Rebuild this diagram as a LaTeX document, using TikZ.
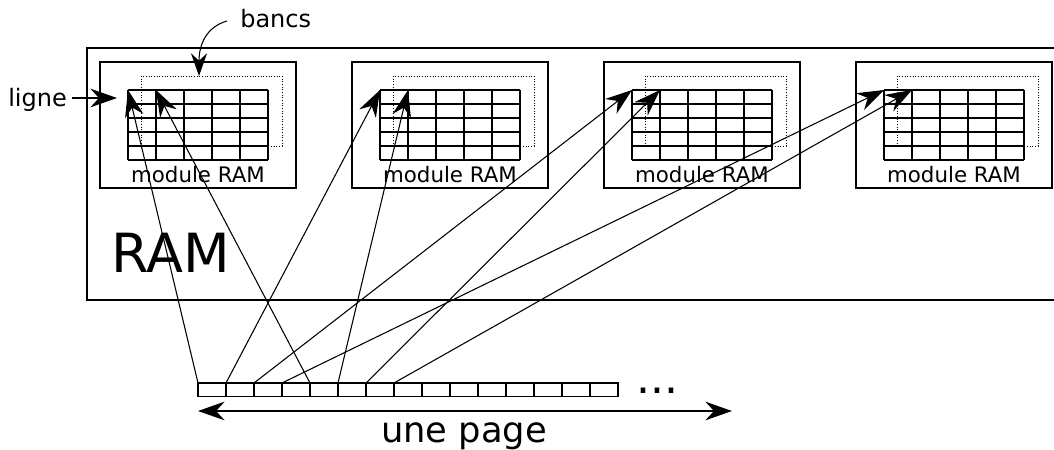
\documentclass[tikz,border=0pt]{standalone}
\usepackage{fontspec}
\setmainfont{DejaVu Sans}
\usetikzlibrary{arrows.meta}
\begin{document}
\begin{tikzpicture}[x=0.75pt,y=-0.75pt,
  box/.style={draw,line width=1pt,inner sep=0pt,outer sep=0pt,anchor=north west},
  gridline/.style={line width=1pt},
  banc/.style={line width=0.7pt,dash pattern=on 0.8pt off 1.2pt},
  tipS/.tip={Stealth[length=20pt,width=14pt,inset=6.5pt]},
  ptr/.style={-tipS,line width=0.8pt},
  cell/.style={draw,line width=0.85pt,minimum width=21pt,minimum height=10.1pt,inner sep=0pt,outer sep=0pt,anchor=north west},
  small/.style={inner sep=0pt,font=\fontsize{16}{19}\selectfont},
  mid/.style={inner sep=0pt,font=\fontsize{18}{21}\selectfont}
]
\useasboundingbox (0,0) rectangle (1054,450);

% big RAM box (extends past the right edge)
\node[box,minimum width=750pt,minimum height=189pt] (ram) at (87,48) {};
\node[inner sep=0pt,anchor=base west,font=\fontsize{40.5}{48}\selectfont] (ramlbl) at (111,272) {RAM};

% modules
\foreach \i in {0,...,3}{
  \pgfmathsetmacro{\L}{100+252*\i}
  \node[box,minimum width=147pt,minimum height=94.5pt] (m\i) at (\L,62) {};
  \foreach \k in {0,...,5}{
    \draw[gridline] ({\L+28+28*\k},90) -- ({\L+28+28*\k},160);
    \draw[gridline] ({\L+28},{90+14*\k}) -- ({\L+168},{90+14*\k});
  }
  \draw[banc] ({\L+41},76) rectangle ({\L+182},146);
  \coordinate (g\i a) at ({\L+28},90);
  \coordinate (g\i b) at ({\L+56},90);
  \node[small,anchor=base] (t\i) at ({\L+98},182) {module RAM};
}

% page cells
\foreach \k in {0,...,14}{
  \node[cell] (p\k) at ({198+28*\k},383) {};
}
\node[inner sep=0pt,anchor=base west,font=\fontsize{33}{38}\selectfont] (dots) at (636,393) {...};

% pointers
\draw[ptr] (p0.north west) -- (g0a);
\draw[ptr] (p1.north west) -- (g1a);
\draw[ptr] (p2.north west) -- (g2a);
\draw[ptr] (p3.north west) -- (g3a);
\draw[ptr] (p4.north west) -- (g0b);
\draw[ptr] (p5.north west) -- (g1b);
\draw[ptr] (p6.north west) -- (g2b);
\draw[ptr] (p7.north west) -- (g3b);

% une page
\coordinate (pl) at (198,411);
\coordinate (pr) at (732,411);
\draw[tipS-tipS,line width=0.8pt] (pl) -- (pr);
\node[inner sep=0pt,anchor=base,font=\fontsize{26.5}{31}\selectfont] (page) at (464,442) {une page};

% ligne
\node[mid,anchor=base west] (ligne) at (8,106) {ligne};
\coordinate (ls) at (72,98);
\coordinate (le) at (117,98);
\draw[ptr] (ls) -- (le);

% bancs
\node[mid,anchor=base west] (bancs) at (240,27) {bancs};
\coordinate (bs) at (227,21);
\coordinate (be) at (199,76);
\draw[-{Stealth[length=17pt,width=12pt,inset=5.5pt]},line width=0.8pt] (bs) .. controls (206,27) and (199,45) .. (be);
\end{tikzpicture}
\end{document}
